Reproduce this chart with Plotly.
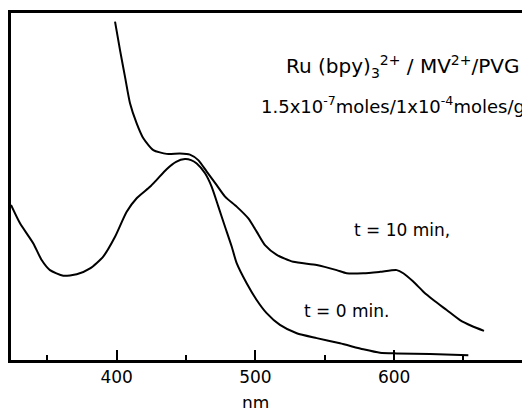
import plotly.graph_objects as go

# t = 10 min curve (nm, absorbance in arbitrary units)
nm_t10 = [398.8, 402.4, 406.0, 409.6, 414.4, 419.2, 426.4, 436.0, 445.6, 452.8, 458.8,
          464.9, 472.1, 478.1, 486.5, 494.9, 500.9, 506.9, 515.4, 527.3, 544.2, 558.6,
          565.8, 577.8, 589.8, 601.9, 606.6, 613.8, 621.1, 628.3, 637.9, 647.5, 656.0, 664.8]
abs_t10 = [0.975, 0.893, 0.816, 0.740, 0.682, 0.639, 0.605, 0.594, 0.595, 0.592, 0.576,
           0.543, 0.504, 0.471, 0.442, 0.408, 0.370, 0.331, 0.303, 0.283, 0.274, 0.259,
           0.250, 0.250, 0.254, 0.259, 0.250, 0.226, 0.197, 0.173, 0.144, 0.115, 0.098, 0.084]

# t = 0 min curve
nm_t0 = [323.8, 330.3, 339.9, 345.9, 351.9, 361.5, 371.2, 380.8, 390.3, 398.8, 407.2,
         414.4, 424.0, 428.8, 436.0, 442.8, 449.2, 453.6, 457.7, 463.7, 468.5, 473.3,
         478.1, 482.9, 486.5, 493.7, 500.9, 508.1, 517.7, 529.8, 544.2, 561.0, 577.8,
         589.8, 601.9, 625.9, 653.5]
abs_t0 = [0.447, 0.394, 0.336, 0.288, 0.259, 0.243, 0.247, 0.264, 0.298, 0.355, 0.427,
          0.466, 0.499, 0.519, 0.550, 0.571, 0.579, 0.576, 0.566, 0.538, 0.499, 0.442,
          0.384, 0.327, 0.279, 0.221, 0.173, 0.135, 0.101, 0.077, 0.063, 0.048, 0.031,
          0.021, 0.019, 0.017, 0.014]

tick_vals = [400, 500, 600]
tick_text = ["400", "500", "600"]
minor_vals = [350, 450, 550, 650]
x_range = [323.8, 692.2]
y_range = [0, 1]

FONT = "DejaVu Sans, Verdana, sans-serif"

fig = go.Figure()
for xs, ys in [(nm_t10, abs_t10), (nm_t0, abs_t0)]:
    fig.add_trace(go.Scatter(x=xs, y=ys, mode="lines",
                             line=dict(color="black", width=2, shape="spline", smoothing=0.6),
                             showlegend=False, hoverinfo="skip"))

fig.update_layout(
    width=522, height=408,
    margin=dict(l=11, r=0, t=13, b=48),
    paper_bgcolor="white", plot_bgcolor="white",
    font=dict(family=FONT, size=16, color="black"),
    hovermode=False,
    xaxis=dict(range=x_range, showgrid=False, zeroline=False,
               showline=True, linecolor="black", linewidth=3, mirror=True,
               ticks="inside", ticklen=10, tickwidth=2, tickcolor="black",
               tickvals=tick_vals, ticktext=tick_text,
               tickfont=dict(size=17, family=FONT),
               minor=dict(ticks="inside", ticklen=5, tickwidth=2, tickcolor="black",
                          tickvals=minor_vals)),
    yaxis=dict(range=y_range, showgrid=False, zeroline=False,
               showline=True, linecolor="black", linewidth=3, mirror=False,
               ticks="", showticklabels=False),
)

annots = [
    dict(text="Ru (bpy)<sub>3</sub><sup>2+</sup> / MV<sup>2+</sup>/PVG", x=0.534, y=0.846, size=20),
    dict(text="1.5x10<sup>-7</sup>moles/1x10<sup>-4</sup>moles/g", x=0.485, y=0.735, size=18),
    dict(text="t = 10 min,", x=0.667, y=0.375, size=17),
    dict(text="t = 0 min.", x=0.569, y=0.141, size=17),
]
for a in annots:
    fig.add_annotation(text=a["text"], xref="paper", yref="paper", x=a["x"], y=a["y"],
                       xanchor="left", yanchor="middle", showarrow=False,
                       font=dict(size=a["size"], family=FONT, color="black"))

fig.add_annotation(text="nm", xref="x", yref="paper", x=500, y=-0.124,
                   xanchor="center", yanchor="middle", showarrow=False,
                   font=dict(size=17, family=FONT, color="black"))

fig.write_html("out.html", config={"displayModeBar": False},
               post_script="document.body.style.margin='0px';")
